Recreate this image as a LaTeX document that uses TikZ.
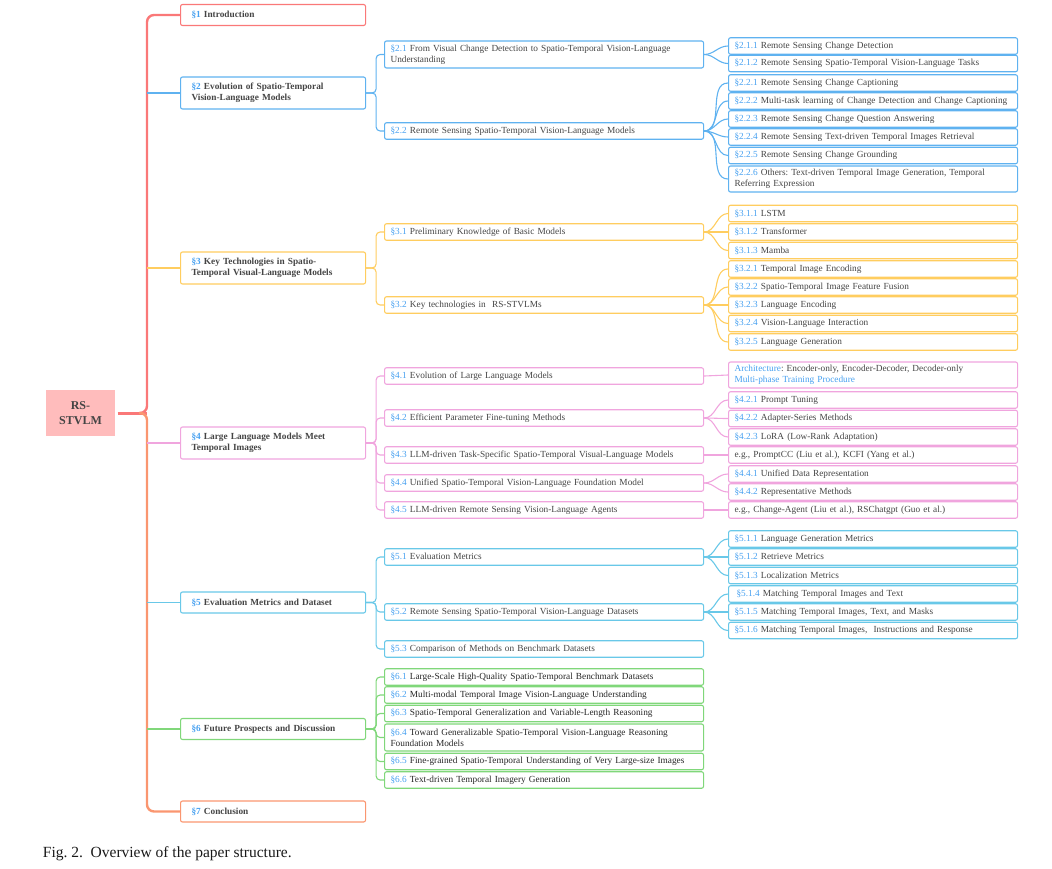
\documentclass[tikz,border=0pt]{standalone}
\usepackage{fontspec}
\setmainfont{Liberation Serif}
\usetikzlibrary{positioning}

\definecolor{cred}{RGB}{250,120,120}
\definecolor{cblue}{RGB}{95,178,240}
\definecolor{cyellow}{RGB}{255,205,95}
\definecolor{cpink}{RGB}{240,165,222}
\definecolor{ccyan}{RGB}{105,200,232}
\definecolor{cgreen}{RGB}{128,215,122}
\definecolor{corange}{RGB}{250,150,112}
\definecolor{secblue}{RGB}{70,160,240}
\definecolor{txtgray}{RGB}{68,68,68}
\definecolor{rootfill}{RGB}{255,188,188}

\newcommand{\snum}[1]{\textcolor{secblue}{\S#1}}
\frenchspacing

\begin{document}
\begin{tikzpicture}[x=1pt,y=-1pt,line width=1.1pt,
                    box/.style={draw,rounded corners=2pt,anchor=west,align=left,inner ysep=2pt,
                                text=txtgray,font=\fontsize{9.3}{11.3}\selectfont},
                    lvone/.style={box,text width=163pt,inner xsep=11pt,minimum height=21pt,
                                  font=\fontsize{9.3}{11.3}\selectfont\bfseries},
                    lvtwo/.style={box,text width=307pt,inner xsep=6pt,minimum height=16.5pt},
                    lvthree/.style={box,text width=277pt,inner xsep=6pt,minimum height=16.5pt},
                    cline/.style={draw=#1,line width=1.1pt},
                    brk/.style={rounded corners=4pt,to path={-- ++(10,0) |- (\tikztotarget)}},
                    fan/.style={out=0,in=180}]

  \useasboundingbox (0,0) rectangle (1052,868);

  % root
  \node[fill=rootfill,minimum width=69pt,minimum height=46pt,align=center,text=txtgray,
        font=\fontsize{12}{14.5}\selectfont\bfseries] (root) at (80.5,413) {RS-\\STVLM};

  % sections
  \node[lvone,draw=cred]    (s1) at (180,15)    {\snum{1} Introduction};
  \node[lvone,draw=cblue,minimum height=32pt]   (s2) at (180,93)
        {\snum{2} Evolution of Spatio-Temporal\\Vision-Language Models};
  \node[lvone,draw=cyellow,minimum height=32pt] (s3) at (180,268)
        {\snum{3} Key Technologies in Spatio-\\Temporal Visual-Language Models};
  \node[lvone,draw=cpink,minimum height=32pt]   (s4) at (180,443)
        {\snum{4} Large Language Models Meet\\Temporal Images};
  \node[lvone,draw=ccyan]   (s5) at (180,602.5) {\snum{5} Evaluation Metrics and Dataset};
  \node[lvone,draw=cgreen]  (s6) at (180,729)   {\snum{6} Future Prospects and Discussion};
  \node[lvone,draw=corange] (s7) at (180,811.5) {\snum{7} Conclusion};

  % section 2
  \node[lvtwo,draw=cblue,minimum height=27pt] (s21) at (384,54.5)
        {\snum{2.1} From Visual Change Detection to Spatio-Temporal Vision-Language\\Understanding};
  \node[lvtwo,draw=cblue] (s22) at (384,131) {\snum{2.2} Remote Sensing Spatio-Temporal Vision-Language Models};
  \node[lvthree,draw=cblue] (s211) at (728,46)    {\snum{2.1.1} Remote Sensing Change Detection};
  \node[lvthree,draw=cblue] (s212) at (728,63.5)  {\snum{2.1.2} Remote Sensing Spatio-Temporal Vision-Language Tasks};
  \node[lvthree,draw=cblue] (s221) at (728,83)    {\snum{2.2.1} Remote Sensing Change Captioning};
  \node[lvthree,draw=cblue] (s222) at (728,101)   {\snum{2.2.2} Multi-task learning of Change Detection and Change Captioning};
  \node[lvthree,draw=cblue] (s223) at (728,119)   {\snum{2.2.3} Remote Sensing Change Question Answering};
  \node[lvthree,draw=cblue] (s224) at (728,137)   {\snum{2.2.4} Remote Sensing Text-driven Temporal Images Retrieval};
  \node[lvthree,draw=cblue] (s225) at (728,155.5) {\snum{2.2.5} Remote Sensing Change Grounding};
  \node[lvthree,draw=cblue,minimum height=26pt] (s226) at (728,179)
        {\snum{2.2.6} Others: Text-driven Temporal Image Generation, Temporal\\Referring Expression};

  % section 3
  \node[lvtwo,draw=cyellow] (s31) at (384,232) {\snum{3.1} Preliminary Knowledge of Basic Models};
  \node[lvtwo,draw=cyellow] (s32) at (384,305) {\snum{3.2} Key technologies in~ RS-STVLMs};
  \node[lvthree,draw=cyellow] (s311) at (728,213.5) {\snum{3.1.1} LSTM};
  \node[lvthree,draw=cyellow] (s312) at (728,232)   {\snum{3.1.2} Transformer};
  \node[lvthree,draw=cyellow] (s313) at (728,250.5) {\snum{3.1.3} Mamba};
  \node[lvthree,draw=cyellow] (s321) at (728,269)   {\snum{3.2.1} Temporal Image Encoding};
  \node[lvthree,draw=cyellow] (s322) at (728,287)   {\snum{3.2.2} Spatio-Temporal Image Feature Fusion};
  \node[lvthree,draw=cyellow] (s323) at (728,305)   {\snum{3.2.3} Language Encoding};
  \node[lvthree,draw=cyellow] (s324) at (728,323.5) {\snum{3.2.4} Vision-Language Interaction};
  \node[lvthree,draw=cyellow] (s325) at (728,342)   {\snum{3.2.5} Language Generation};

  % section 4
  \node[lvtwo,draw=cpink] (s41) at (384,376) {\snum{4.1} Evolution of Large Language Models};
  \node[lvtwo,draw=cpink] (s42) at (384,418) {\snum{4.2} Efficient Parameter Fine-tuning Methods};
  \node[lvtwo,draw=cpink] (s43) at (384,455) {\snum{4.3} LLM-driven Task-Specific Spatio-Temporal Visual-Language Models};
  \node[lvtwo,draw=cpink] (s44) at (384,483) {\snum{4.4} Unified Spatio-Temporal Vision-Language Foundation Model};
  \node[lvtwo,draw=cpink] (s45) at (384,510) {\snum{4.5} LLM-driven Remote Sensing Vision-Language Agents};
  \node[lvthree,draw=cpink,minimum height=26pt] (a41) at (728,375)
        {\textcolor{secblue}{Architecture}: Encoder-only, Encoder-Decoder, Decoder-only\\\textcolor{secblue}{Multi-phase Training Procedure}};
  \node[lvthree,draw=cpink] (s421) at (728,400)   {\snum{4.2.1} Prompt Tuning};
  \node[lvthree,draw=cpink] (s422) at (728,418.5) {\snum{4.2.2} Adapter-Series Methods};
  \node[lvthree,draw=cpink] (s423) at (728,437)   {\snum{4.2.3} LoRA (Low-Rank Adaptation)};
  \node[lvthree,draw=cpink] (e43)  at (728,455)   {e.g., PromptCC (Liu et al.), KCFI (Yang et al.)};
  \node[lvthree,draw=cpink] (s441) at (728,474)   {\snum{4.4.1} Unified Data Representation};
  \node[lvthree,draw=cpink] (s442) at (728,492)   {\snum{4.4.2} Representative Methods};
  \node[lvthree,draw=cpink] (e45)  at (728,510)   {e.g., Change-Agent (Liu et al.), RSChatgpt (Guo et al.)};

  % section 5
  \node[lvtwo,draw=ccyan] (s51) at (384,557) {\snum{5.1} Evaluation Metrics};
  \node[lvtwo,draw=ccyan] (s52) at (384,612) {\snum{5.2} Remote Sensing Spatio-Temporal Vision-Language Datasets};
  \node[lvtwo,draw=ccyan] (s53) at (384,649) {\snum{5.3} Comparison of Methods on Benchmark Datasets};
  \node[lvthree,draw=ccyan] (s511) at (728,539)   {\snum{5.1.1} Language Generation Metrics};
  \node[lvthree,draw=ccyan] (s512) at (728,557)   {\snum{5.1.2} Retrieve Metrics};
  \node[lvthree,draw=ccyan] (s513) at (728,575.5) {\snum{5.1.3} Localization Metrics};
  \node[lvthree,draw=ccyan] (s514) at (728,594)   {\hspace{2pt}\snum{5.1.4} Matching Temporal Images and Text};
  \node[lvthree,draw=ccyan] (s515) at (728,612)   {\snum{5.1.5} Matching Temporal Images, Text, and Masks};
  \node[lvthree,draw=ccyan] (s516) at (728,630.5) {\snum{5.1.6} Matching Temporal Images,~ Instructions and Response};

  % section 6
  \node[lvtwo,draw=cgreen,text=black!85] (s61) at (384,677)   {\snum{6.1} Large-Scale High-Quality Spatio-Temporal Benchmark Datasets};
  \node[lvtwo,draw=cgreen,text=black!85] (s62) at (384,695)   {\snum{6.2} Multi-modal Temporal Image Vision-Language Understanding};
  \node[lvtwo,draw=cgreen,text=black!85] (s63) at (384,713.5) {\snum{6.3} Spatio-Temporal Generalization and Variable-Length Reasoning};
  \node[lvtwo,draw=cgreen,text=black!85,minimum height=27pt] (s64) at (384,737.5)
        {\snum{6.4} Toward Generalizable Spatio-Temporal Vision-Language Reasoning\\Foundation Models};
  \node[lvtwo,draw=cgreen,text=black!85] (s65) at (384,761.5) {\snum{6.5} Fine-grained Spatio-Temporal Understanding of Very Large-size Images};
  \node[lvtwo,draw=cgreen,text=black!85] (s66) at (384,780)   {\snum{6.6} Text-driven Temporal Imagery Generation};

  % caption
  \node[anchor=west,font=\fontsize{15.5}{18}\selectfont,text=black!90] (cap) at (39,854)
        {Fig. 2.\ \ Overview of the paper structure.};

  % trunk
  \coordinate (tr) at (147,413);
  \draw[cred,line width=3pt] (root.east) ++(2,0) -- (tr);
  \draw[cred,line width=2.4pt,rounded corners=7pt] (tr) ++(-8,0) -- (tr) |- (s1.west);
  \draw[corange,line width=2.4pt,rounded corners=7pt] (tr) ++(-8,0) -- (tr) |- (s7.west);
  \path (tr |- s2.west) edge[cline=cblue]   (s2.west)
        (tr |- s3.west) edge[cline=cyellow] (s3.west)
        (tr |- s4.west) edge[cline=cpink]   (s4.west)
        (tr |- s5.west) edge[cline=ccyan]   (s5.west)
        (tr |- s6.west) edge[cline=cgreen]  (s6.west);

  % brackets to subsections
  \path[cline=cblue] (s2.east) edge[brk] (s21.west) (s2.east) edge[brk] (s22.west);
  \path[cline=cyellow] (s3.east) edge[brk] (s31.west) (s3.east) edge[brk] (s32.west);
  \foreach \c in {s41,s42,s43,s44,s45}
    \path[cline=cpink] (s4.east) edge[brk] (\c.west);
  \foreach \c in {s51,s52,s53}
    \path[cline=ccyan] (s5.east) edge[brk] (\c.west);
  \foreach \c in {s61,s62,s63,s64,s65,s66}
    \path[cline=cgreen] (s6.east) edge[brk] (\c.west);

  % fans to subsubsections
  \foreach \c in {s211,s212}
    \path[cline=cblue] (s21.east) edge[fan] (\c.west);
  \foreach \c in {s221,s222,s223,s224,s225,s226}
    \path[cline=cblue] (s22.east) edge[fan] (\c.west);
  \foreach \c in {s311,s312,s313}
    \path[cline=cyellow] (s31.east) edge[fan] (\c.west);
  \foreach \c in {s321,s322,s323,s324,s325}
    \path[cline=cyellow] (s32.east) edge[fan] (\c.west);
  \path[cline=cpink] (s41.east) edge (a41.west)
                     (s43.east) edge (e43.west)
                     (s45.east) edge (e45.west);
  \foreach \c in {s421,s422,s423}
    \path[cline=cpink] (s42.east) edge[fan] (\c.west);
  \foreach \c in {s441,s442}
    \path[cline=cpink] (s44.east) edge[fan] (\c.west);
  \foreach \c in {s511,s512,s513}
    \path[cline=ccyan] (s51.east) edge[fan] (\c.west);
  \foreach \c in {s514,s515,s516}
    \path[cline=ccyan] (s52.east) edge[fan] (\c.west);
\end{tikzpicture}
\end{document}
